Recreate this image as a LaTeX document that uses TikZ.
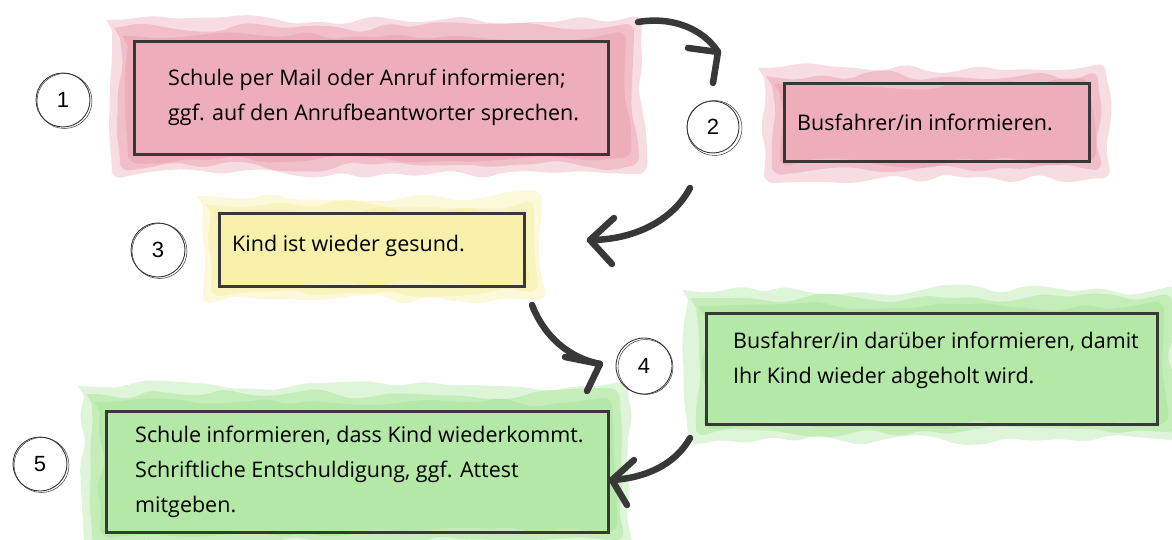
\documentclass[tikz,border=0pt]{standalone}
\usepackage{fontspec}
\setmainfont{Open Sans}
\newfontfamily\digitfont{Liberation Sans}
\usetikzlibrary{decorations.pathmorphing}
\definecolor{pinkw}{HTML}{E58A9C}
\definecolor{yelw}{HTML}{F3EA86}
\definecolor{greenw}{HTML}{93DE80}
\definecolor{ink}{HTML}{383838}
\begin{document}
\begin{tikzpicture}[x=1pt,y=-1pt,
  wash/.style={fill=#1, fill opacity=0.35, draw=none, decorate,
    decoration={random steps, segment length=24pt, amplitude=6pt}, rounded corners=10pt},
  stepbox/.style={draw=ink, line width=2.6pt, inner sep=0pt, anchor=north west},
  numc/.style={circle, draw=ink, line width=0.9pt, minimum size=54pt, inner sep=0pt,
    font=\digitfont\fontsize{22}{24}\selectfont},
  flow/.style={draw=ink, line width=6.5pt, line cap=round, line join=round},
  txt/.style={font=\fontsize{21.5}{35}\selectfont, align=left, anchor=west, text=black, inner sep=0pt}]
\useasboundingbox (0,0) rectangle (1172,540);
\pgfmathsetseed{11}
% washes
\foreach \d/\o in {0/0.3,8/0.35,16/0.35}{
  \fill[wash=pinkw, fill opacity=\o] (112+\d,20+\d) rectangle (642-\d,174-\d);
  \fill[wash=pinkw, fill opacity=\o] (764+\d,68+\d) rectangle (1106-\d,178-\d);
  \fill[wash=yelw, fill opacity=\o] (203+\d,196+\d) rectangle (542-\d,300-\d);
  \fill[wash=greenw, fill opacity=\o] (688+\d,290+\d) rectangle (1180-\d,440-\d);
  \fill[wash=greenw, fill opacity=\o] (84+\d,386+\d) rectangle (628-\d,548-\d);
}
% boxes
\node[stepbox, minimum width=474pt, minimum height=113pt] (b1) at (133,40) {};
\node[stepbox, minimum width=305pt, minimum height=78pt] (b2) at (783,82) {};
\node[stepbox, minimum width=305pt, minimum height=73pt] (b3) at (218,212) {};
\node[stepbox, minimum width=451pt, minimum height=111pt] (b4) at (705,312) {};
\node[stepbox, minimum width=502pt, minimum height=121pt] (b5) at (105,410) {};
% texts
\node[txt] (t1) at ([xshift=35pt]b1.west) {Schule per Mail oder Anruf informieren;\\ggf. auf den Anrufbeantworter sprechen.};
\node[txt] (t2) at ([xshift=14pt]b2.west) {Busfahrer/in informieren.};
\node[txt] (t3) at ([xshift=14pt,yshift=4pt]b3.west) {Kind ist wieder gesund.};
\node[txt] (t4) at ([xshift=28pt,yshift=8pt]b4.west) {Busfahrer/in darüber informieren, damit\\Ihr Kind wieder abgeholt wird.};
\node[txt] (t5) at ([xshift=30pt]b5.west) {Schule informieren, dass Kind wiederkommt.\\Schriftliche Entschuldigung, ggf. Attest\\mitgeben.};
% number circles
\node[numc] (c1) at (63,100) {1};
\node[numc, minimum size=52pt] (c2) at (713,127) {2};
\node[numc] (c3) at (158,250) {3};
\node[numc, minimum size=56pt] (c4) at (644,366) {4};
\node[numc] (c5) at (40,464) {5};
\foreach \c in {c1,c2,c3,c4,c5}
  \draw[ink, line width=0.5pt] ([shift={(1.5pt,-1pt)}]\c.center) circle[radius=27.5pt];
% arrows
\coordinate (s12) at (638,22);  \coordinate (e12) at (718,52);
\coordinate (s23) at (690,188); \coordinate (e23) at (590,240);
\coordinate (s34) at (532,305); \coordinate (e34) at (600,364);
\coordinate (s45) at (690,438); \coordinate (e45) at (612,480);
\draw[flow] (s12) .. controls (674,16) and (704,30) .. (e12);
\draw[flow] ([shift={(-30pt,4pt)}]e12) -- (e12) -- ([shift={(-5pt,-31pt)}]e12);
\draw[flow] (s23) .. controls (672,222) and (632,240) .. (e23);
\draw[flow] ([shift={(22pt,-24pt)}]e23) -- (e23) -- ([shift={(24pt,22pt)}]e23);
\draw[flow] (s34) .. controls (545,338) and (570,358) .. (e34);
\draw[flow] ([shift={(-13pt,-27pt)}]e34) -- (e34) -- ([shift={(-35pt,7pt)}]e34);
\draw[flow] (s45) .. controls (675,465) and (645,478) .. (e45);
\draw[flow] ([shift={(15pt,-25pt)}]e45) -- (e45) -- ([shift={(22pt,20pt)}]e45);
\end{tikzpicture}
\end{document}
